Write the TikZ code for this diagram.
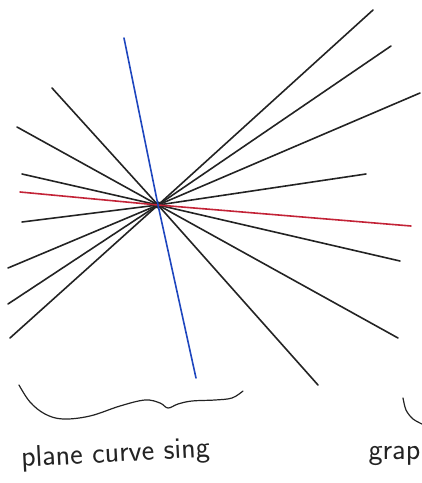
\documentclass[tikz,border=0pt]{standalone}
\usepackage{tikz}
\definecolor{penblack}{RGB}{35,35,35}
\definecolor{penblue}{RGB}{30,70,190}
\definecolor{penred}{RGB}{195,35,55}
\tikzset{ray/.style={penblack, line width=1.6pt, line cap=round}}

\begin{document}
\begin{tikzpicture}[x=1pt,y=-1pt]
  \useasboundingbox (0,0) rectangle (422,483);
  \clip (0,0) rectangle (422,483);
  \node[circle,fill=penblack,inner sep=2.6pt] (sing) at (158,205) {};
  \coordinate (ne1) at (373,10);  \coordinate (sw1) at (10,338);
  \coordinate (ne2) at (391,46);  \coordinate (sw2) at (8,304);
  \coordinate (ne3) at (420,93);  \coordinate (sw3) at (8,268);
  \coordinate (ne4) at (366,174); \coordinate (sw4) at (22,222);
  \coordinate (nw1) at (52,88);   \coordinate (se1) at (318,385);
  \coordinate (nw2) at (17,127);  \coordinate (se2) at (398,338);
  \coordinate (nw3) at (22,174);  \coordinate (se3) at (400,261);
  \coordinate (rw) at (20,192);   \coordinate (re) at (411,226);
  \coordinate (bn) at (124,38);   \coordinate (bs) at (196,378);
  \draw[ray] (ne1) -- (sing.center) -- (sw1);
  \draw[ray] (ne2) -- (sing.center) -- (sw2);
  \draw[ray] (ne3) -- (sing.center) -- (sw3);
  \draw[ray] (ne4) -- (sing.center) -- (sw4);
  \draw[ray] (nw1) -- (sing.center) -- (se1);
  \draw[ray] (nw2) -- (sing.center) -- (se2);
  \draw[ray] (nw3) -- (sing.center) -- (se3);
  \draw[ray, penred] (rw) -- (sing.center) -- (re);
  \draw[ray, penblue] (bn) -- (sing.center) -- (bs);
  \draw[ray, line width=1.2pt] plot[smooth, tension=0.6] coordinates {(19,385) (30,402) (45,414) (63,419) (90,416) (120,406) (145,400) (160,403) (168,408) (178,404) (192,401) (215,400) (232,398) (243,391)};
  \draw[ray, line width=1.2pt] plot[smooth] coordinates {(403,398) (406,410) (413,419) (424,425)};
  \node[anchor=base west, rotate=3, font=\sffamily\fontsize{30}{34}\selectfont, penblack] (lbl) at (18,467) {plane curve sing};
  \node[anchor=base west, font=\sffamily\fontsize{30}{34}\selectfont, penblack] (lbl2) at (365,459) {grap};
\end{tikzpicture}
\end{document}
